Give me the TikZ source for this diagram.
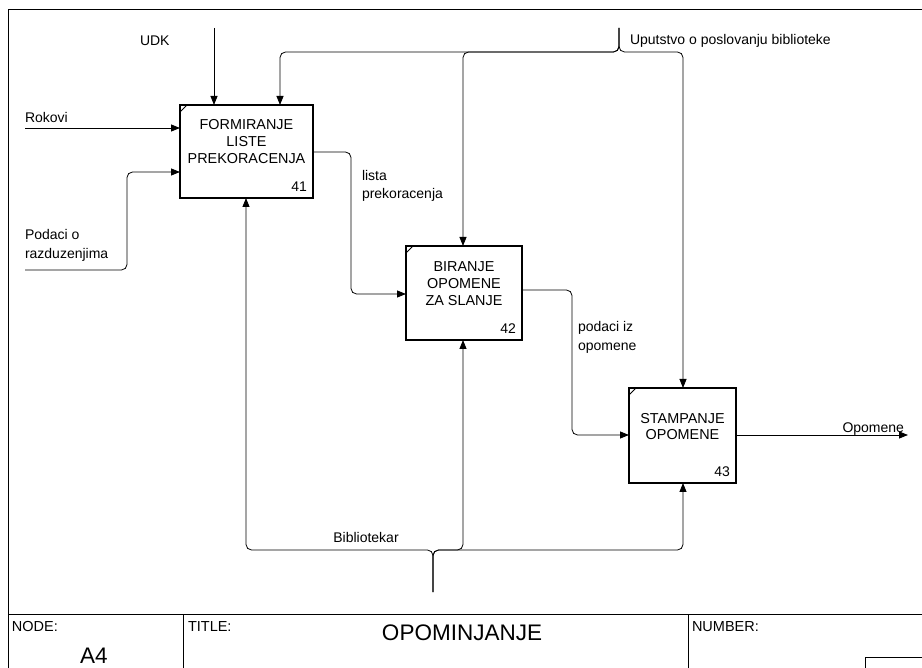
\documentclass[tikz,border=0pt]{standalone}
\usepackage{fontspec}
\setmainfont{Liberation Sans}
\usetikzlibrary{arrows.meta,calc}
\begin{document}
\begin{tikzpicture}[x=1pt,y=-1pt,
  every node/.style={inner sep=0pt,outer sep=0pt},
  lbl/.style={font=\fontsize{14}{18}\selectfont},
  boxtext/.style={font=\fontsize{14.4}{16.7}\selectfont,align=center},
  hdr/.style={font=\fontsize{14.5}{16}\selectfont,anchor=base west},
  big/.style={font=\fontsize{22.5}{24}\selectfont,anchor=base},
  fn/.style={draw,line width=1.6pt},
  conn/.style={line width=0.8pt,rounded corners=5.5pt},
  arr/.style={conn,-{Triangle[length=9pt,width=7pt]}},
  tick/.style={line width=1pt}
]
\useasboundingbox (0,0) rectangle (922,668);

% form frame and title block
\draw[line width=1pt] (8,668) -- (8,10) -- (922,10);
\draw[line width=1pt] (8,614) -- (922,614);
\draw[line width=1pt] (183,614) -- (183,668);
\draw[line width=1pt] (688,614) -- (688,668);
\draw[line width=1pt] (865,668) -- (865,657) -- (922,657);
\node[hdr] (nodelbl) at (12,631) {NODE:};
\node[hdr] (titlelbl) at (188,631) {TITLE:};
\node[hdr] (numlbl) at (692,631) {NUMBER:};
\node[big] (nodeval) at (94,663) {A4};
\node[big] (titleval) at (462,640) {OPOMINJANJE};

% activity boxes
\node[fn,minimum width=133pt,minimum height=93pt] (A41) at (246.5,151.5) {};
\node[fn,minimum width=116pt,minimum height=94pt] (A42) at (464,293) {};
\node[fn,minimum width=107pt,minimum height=95pt] (A43) at (682.5,435.5) {};

\foreach \b in {A41,A42,A43}{
  \draw[tick] ($(\b.north west)+(0,7)$) -- ($(\b.north west)+(7,0)$);
}

\node[boxtext] (t41) at (246.5,141.5) {FORMIRANJE\\LISTE\\PREKORACENJA};
\node[boxtext] (t42) at (464,283.5) {BIRANJE\\OPOMENE\\ZA SLANJE};
\node[boxtext] (t43) at (682.5,426.5) {STAMPANJE\\OPOMENE};

\node[lbl,anchor=base east] (n41) at ($(A41.south east)+(-6,-6)$) {41};
\node[lbl,anchor=base east] (n42) at ($(A42.south east)+(-6,-6)$) {42};
\node[lbl,anchor=base east] (n43) at ($(A43.south east)+(-6,-6)$) {43};

% controls
\coordinate (udk) at (214,28);
\draw[arr] (udk) -- (udk |- A41.north);
\node[lbl,anchor=base west] (udklbl) at (140,46) {UDK};

\coordinate (up) at (619,28);
\draw[arr] (up) |- (280,52) -- (280,0 |- A41.north);
\draw[arr] (up) |- (463,52) -- (463,0 |- A42.north);
\draw[arr] (up) |- (683,52) -- (683,0 |- A43.north);
\node[lbl,anchor=base west] (uplbl) at (630,45) {Uputstvo o poslovanju biblioteke};

% inputs
\coordinate (rok) at (25,128);
\draw[arr] (rok) -- (rok -| A41.west);
\node[lbl,anchor=base west] (roklbl) at (25,123) {Rokovi};

\coordinate (pod) at (25,270);
\draw[arr] (pod) -| (127,172) -- (A41.west |- 0,172);
\node[lbl,anchor=base west] (podlbl1) at (25,240) {Podaci o};
\node[lbl,anchor=base west] (podlbl2) at (25,259) {razduzenjima};

% internal flows
\draw[arr] (A41.east |- 0,152) -| (351,294) -- (A42.west |- 0,294);
\node[lbl,anchor=base west] (lislbl1) at (362,181) {lista};
\node[lbl,anchor=base west] (lislbl2) at (362,199) {prekoracenja};

\draw[arr] (A42.east |- 0,290) -| (572,435) -- (A43.west |- 0,435);
\node[lbl,anchor=base west] (pizlbl1) at (578,332) {podaci iz};
\node[lbl,anchor=base west] (pizlbl2) at (578,351) {opomene};

% output
\coordinate (out) at (908,435);
\draw[arr] (A43.east |- out) -- (out);
\node[lbl,anchor=base east] (outlbl) at (904,433) {Opomene};

% mechanism
\coordinate (bib) at (433,592);
\draw[arr] (bib) |- (246,550) -- (246,0 |- A41.south);
\draw[arr] (bib) |- (463,550) -- (463,0 |- A42.south);
\draw[arr] (bib) |- (683,550) -- (683,0 |- A43.south);
\node[lbl,anchor=base] (biblbl) at (366,542) {Bibliotekar};

\end{tikzpicture}
\end{document}
